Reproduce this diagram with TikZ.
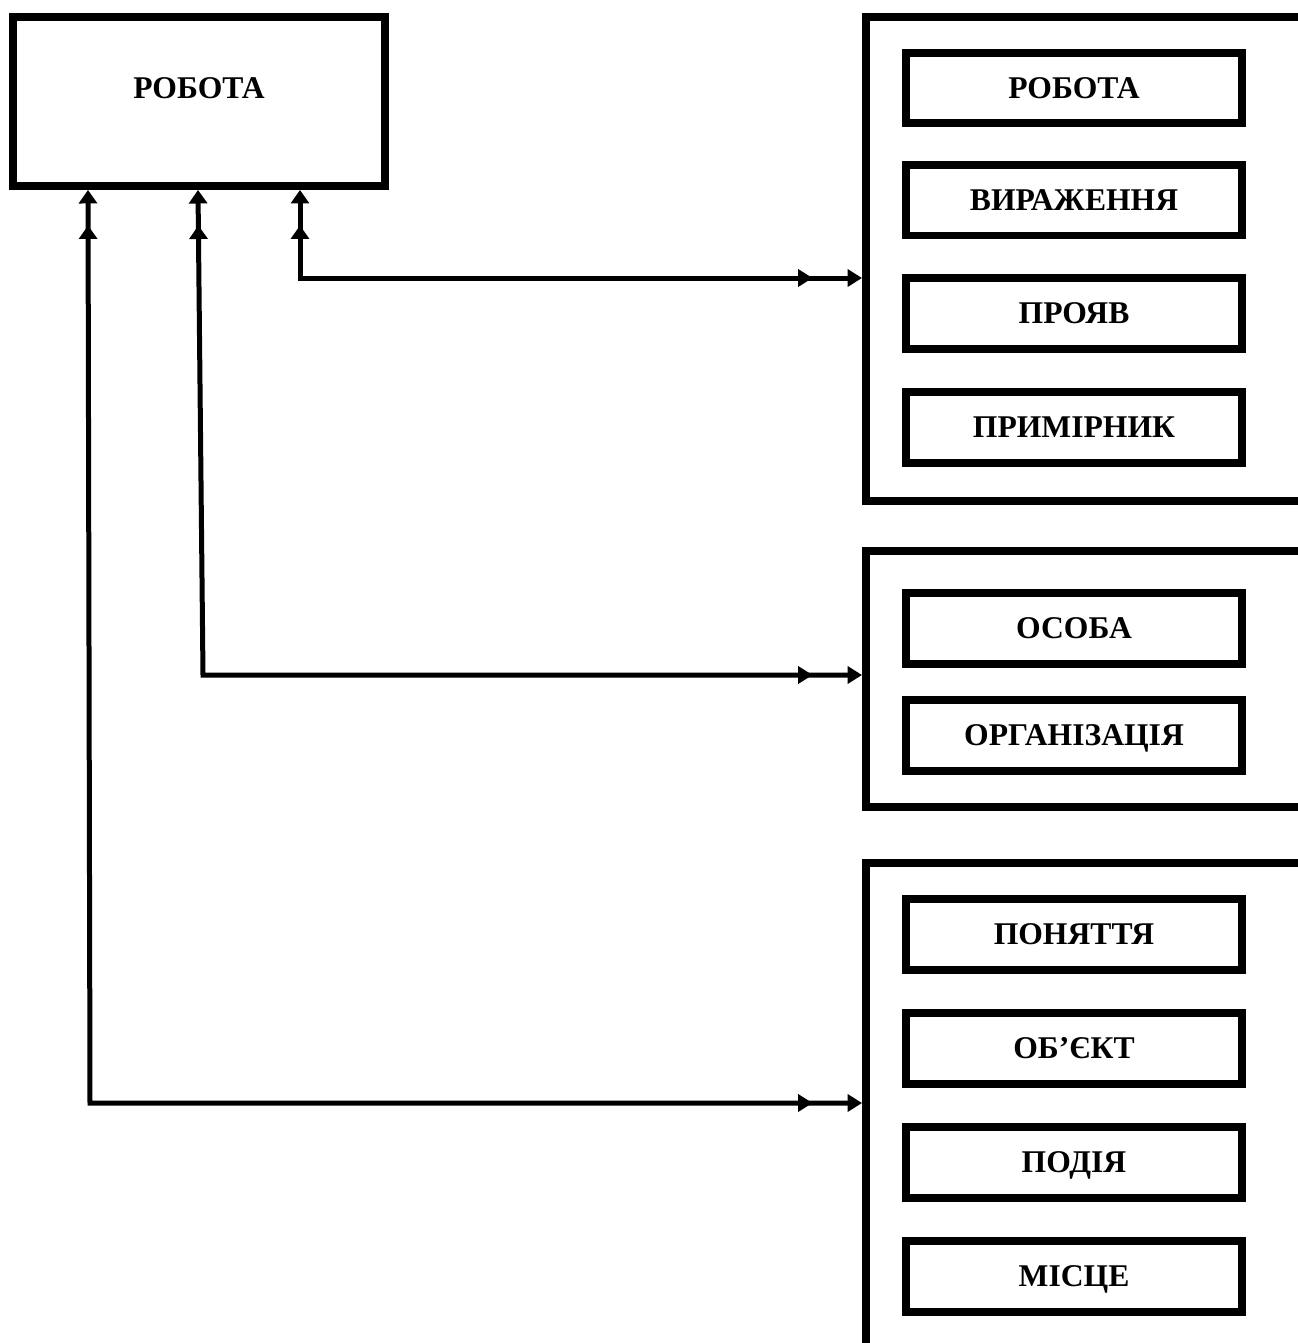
\documentclass[tikz,border=0pt]{standalone}
\usepackage{fontspec}
\setmainfont{Liberation Serif}
\usetikzlibrary{arrows.meta}
\tikzset{
    boxtext/.style={font=\fontsize{18}{20}\selectfont\bfseries, text height=11.9pt, text depth=0pt, inner sep=0pt},
    itembox/.style={boxtext, draw=black, line width=0.16cm, minimum width=6.72cm, minimum height=1.42cm},
    groupframe/.style={draw=black, line width=0.16cm, minimum width=10.68cm},
    link/.style={line width=0.1cm,
        {Triangle[length=0.27cm,width=0.36cm]Triangle[length=0.27cm,width=0.36cm,sep=0.44cm]}-{Triangle[length=0.29cm,width=0.34cm,sep=0.7cm]Triangle[length=0.29cm,width=0.34cm]}}
}
\begin{document}
\begin{tikzpicture}[x=0.02cm, y=-0.02cm]
%головний блок зліва, три групи справа (обрізані правим краєм)
\useasboundingbox (0,0) rectangle (1298,1343);
\clip (0,0) rectangle (1298,1343);

\node[draw=black, line width=0.16cm, minimum width=7.44cm, minimum height=3.38cm] (Main) at (199,101.5) {};
\node[boxtext] (MainText) at (199,88) {РОБОТА};

\node[groupframe, minimum height=9.68cm] (Group1) at (1133,259) {};
\node[groupframe, minimum height=5.12cm] (Group2) at (1133,679) {};
\node[groupframe, minimum height=10.74cm] (Group3) at (1133,1131.5) {};

\foreach \n/\y/\t in
{ Work/88/РОБОТА,
    Expr/200/ВИРАЖЕННЯ,
    Manif/313.5/ПРОЯВ,
    Copy/427.5/ПРИМІРНИК,
    Person/628.5/ОСОБА,
    Org/735.5/ОРГАНІЗАЦІЯ,
    Concept/934.5/ПОНЯТТЯ,
    Object/1048/ОБ’ЄКТ,
    Event/1162.5/ПОДІЯ,
    Place/1276.5/МІСЦЕ
}
{
    \node[itembox] (\n) at (1074,\y) {\t};
};

\coordinate (Turn1) at (90,1103);
\coordinate (Turn2) at (203,675);
\coordinate (Turn3) at (300,278);

\draw[link] (Main.south -| 88,0) -- (Turn1) -- (Turn1 -| Group3.west);
\draw[link] (Main.south -| 198,0) -- (Turn2) -- (Turn2 -| Group2.west);
\draw[link] (Main.south -| Turn3) -- (Turn3) -- (Turn3 -| Group1.west);
\end{tikzpicture}
\end{document}
